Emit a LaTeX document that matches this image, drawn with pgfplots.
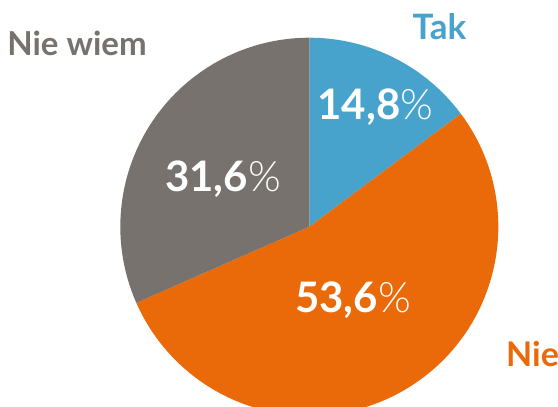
\documentclass[border=0pt]{standalone}
\usepackage{fontspec}
\setmainfont{Lato}
\newfontfamily\latolight{Lato Light}[BoldFont={Lato Light}]
\usepackage{pgfplots}
\pgfplotsset{compat=1.18}
\usepackage{pgfplotstable}

\definecolor{takblue}{HTML}{48A3CC}
\definecolor{nieorange}{HTML}{EA6A0A}
\definecolor{wiemgray}{HTML}{77726D}

% shares in percent, clockwise from 12 o'clock
\pgfplotstableread{
name     value
Tak      14.8
Nie      53.6
Niewiem  31.6
}\piedata

\newcommand\pct{{\latolight\mdseries\%}}

\begin{document}
\begin{tikzpicture}
\begin{axis}[
  width=558bp, height=407bp, scale only axis,
  xmin=0, xmax=558, ymin=0, ymax=407,
  axis lines=none, clip=false,
]
  \pgfplotstablegetelem{0}{value}\of\piedata \let\vA\pgfplotsretval
  \pgfplotstablegetelem{1}{value}\of\piedata \let\vB\pgfplotsretval
  \pgfplotstablegetelem{2}{value}\of\piedata \let\vC\pgfplotsretval
  \pgfmathsetmacro\aA{90}
  \pgfmathsetmacro\aB{90-3.6*\vA}
  \pgfmathsetmacro\aC{\aB-3.6*\vB}
  \pgfmathsetmacro\aD{\aC-3.6*\vC}
  \fill[takblue] (axis cs:309.3,180.3) -- ++(\aA:189bp) arc[start angle=\aA, end angle=\aB, radius=189bp] -- cycle;
  \fill[nieorange] (axis cs:309.3,180.3) -- ++(\aB:189bp) arc[start angle=\aB, end angle=\aC, radius=189bp] -- cycle;
  \fill[wiemgray] (axis cs:309.3,180.3) -- ++(\aC:189bp) arc[start angle=\aC, end angle=\aD, radius=189bp] -- cycle;

  \node[anchor=base, text=white, inner sep=0pt] at (axis cs:375.3,287)
    {\fontsize{42bp}{42bp}\selectfont\bfseries 14,8\pct};
  \node[anchor=base, text=white, inner sep=0pt] at (axis cs:223,215)
    {\fontsize{42bp}{42bp}\selectfont\bfseries 31,6\pct};
  \node[anchor=base, text=white, inner sep=0pt] at (axis cs:353,94)
    {\fontsize{42bp}{42bp}\selectfont\bfseries 53,6\pct};

  \node[anchor=base, text=takblue, inner sep=0pt] at (axis cs:439.5,367.7)
    {\fontsize{35bp}{35bp}\selectfont\bfseries Tak};
  \node[anchor=base, text=wiemgray, inner sep=0pt] at (axis cs:77,351)
    {\fontsize{33bp}{33bp}\selectfont\bfseries Nie wiem};
  \node[anchor=base west, text=nieorange, inner sep=0pt] at (axis cs:506,40)
    {\fontsize{34bp}{34bp}\selectfont\bfseries Nie};
\end{axis}
\pgfresetboundingbox
\path (0,0) rectangle (558bp,407bp);
\end{tikzpicture}
\end{document}
